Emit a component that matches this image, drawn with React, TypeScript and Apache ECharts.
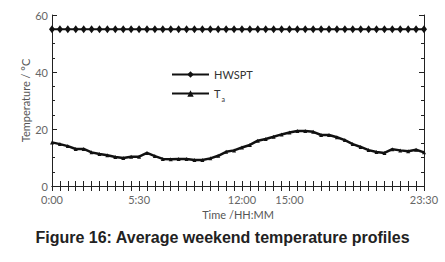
import React, { useEffect, useRef } from "react";
import * as echarts from "echarts";

const times: string[] = [];
for (let h = 0; h < 24; h++) {
  times.push(`${h}:00`);
  times.push(`${h}:30`);
}
const shownLabels = ["0:00", "5:30", "12:00", "15:00", "23:30"];
const hwsptValues = Array(48).fill(55);
const taValues = [
  15.3, 14.7, 14.0, 13.0, 13.0, 11.8, 11.2, 10.8, 10.2, 9.8, 10.3, 10.3, 11.6, 10.5, 9.5, 9.4,
  9.5, 9.5, 9.1, 9.1, 9.7, 10.6, 12.0, 12.5, 13.5, 14.4, 15.9, 16.5, 17.3, 18.1, 18.8, 19.3,
  19.3, 19.0, 17.9, 17.9, 17.1, 16.1, 14.7, 13.7, 12.6, 11.9, 11.6, 12.9, 12.5, 12.2, 12.7, 11.8,
];
const yTicks = [0, 20, 40, 60];

export default function App() {
  const ref = useRef<HTMLDivElement>(null);
  useEffect(() => {
    if (!ref.current) return;
    const chart = echarts.init(ref.current, undefined, { renderer: "svg" });
    const font = "Lato, 'Open Sans', sans-serif";
    chart.setOption({
      animation: false,
      backgroundColor: "#fff",
      grid: { left: 52, right: 21, top: 15, bottom: 76 },
      title: {
        text: "Figure 16: Average weekend temperature profiles",
        left: "center",
        top: 229,
        padding: 0,
        textStyle: { fontFamily: "'Liberation Sans', Arial, sans-serif", fontWeight: "bold", fontSize: 16, color: "#222" },
      },
      legend: {
        orient: "vertical",
        left: 166,
        top: 64,
        itemWidth: 37,
        itemHeight: 8,
        itemGap: 8,
        data: ["HWSPT", "Ta"],
        formatter: (n: string) => (n === "Ta" ? "T{sub|a}" : n),
        textStyle: {
          fontFamily: font,
          fontSize: 11,
          color: "#333",
          rich: { sub: { fontSize: 7, verticalAlign: "bottom", padding: [10, 0, 0, 1], color: "#333" } },
        },
      },
      xAxis: [
        {
          type: "category",
          data: times,
          boundaryGap: false,
          name: "Time /HH:MM",
          nameLocation: "middle",
          nameGap: 23,
          nameMoveOverlap: false,
          nameTextStyle: { fontFamily: font, fontSize: 11, color: "#555" },
          axisLine: { lineStyle: { color: "#222", width: 1 } },
          axisTick: { inside: true, length: 5, interval: 0, lineStyle: { color: "#222" } },
          axisLabel: {
            interval: 0,
            fontFamily: font,
            fontSize: 11,
            color: "#666",
            margin: 8,
            formatter: (v: string) => (shownLabels.includes(v) ? v : ""),
          },
          splitLine: { show: false },
        },
        {
          type: "category",
          data: times,
          boundaryGap: false,
          position: "top",
          axisLine: { lineStyle: { color: "#222", width: 1 } },
          axisTick: { inside: true, length: 5, interval: 0, lineStyle: { color: "#222" } },
          axisLabel: { show: false },
          splitLine: { show: false },
        },
      ],
      yAxis: [
        {
          type: "value",
          min: 0,
          max: 60,
          interval: 20,
          name: "Temperature / °C",
          nameLocation: "middle",
          nameGap: 21,
          nameMoveOverlap: false,
          nameTextStyle: { fontFamily: font, fontSize: 11, color: "#555" },
          axisLine: { show: true, lineStyle: { color: "#222", width: 1 } },
          axisTick: { show: true, inside: true, length: 5, lineStyle: { color: "#222" } },
          minorTick: { show: true, splitNumber: 4, length: 3, lineStyle: { color: "#222" } },
          axisLabel: {
            fontFamily: font,
            fontSize: 11,
            color: "#666",
            margin: 4,
            formatter: (v: number) => (yTicks.includes(v) ? String(v) : ""),
          },
          splitLine: { show: false },
        },
        {
          type: "value",
          min: 0,
          max: 60,
          interval: 20,
          position: "right",
          axisLine: { show: true, lineStyle: { color: "#222", width: 1 } },
          axisTick: { show: true, inside: true, length: 5, lineStyle: { color: "#222" } },
          minorTick: { show: true, splitNumber: 4, length: 3, lineStyle: { color: "#222" } },
          axisLabel: { show: false },
          splitLine: { show: false },
        },
      ],
      series: [
        {
          name: "HWSPT",
          type: "line",
          data: hwsptValues,
          symbol: "diamond",
          symbolSize: [6, 8],
          showAllSymbol: true,
          lineStyle: { color: "#111", width: 2 },
          itemStyle: { color: "#111" },
        },
        {
          name: "Ta",
          type: "line",
          data: taValues,
          symbol: "triangle",
          symbolSize: 4,
          showAllSymbol: true,
          lineStyle: { color: "#111", width: 2.5 },
          itemStyle: { color: "#111" },
        },
      ],
    });
    return () => chart.dispose();
  }, []);
  return (
    <div
      ref={ref}
      style={{ position: "fixed", left: 0, top: 0, width: 445, height: 262, background: "#fff" }}
    />
  );
}
